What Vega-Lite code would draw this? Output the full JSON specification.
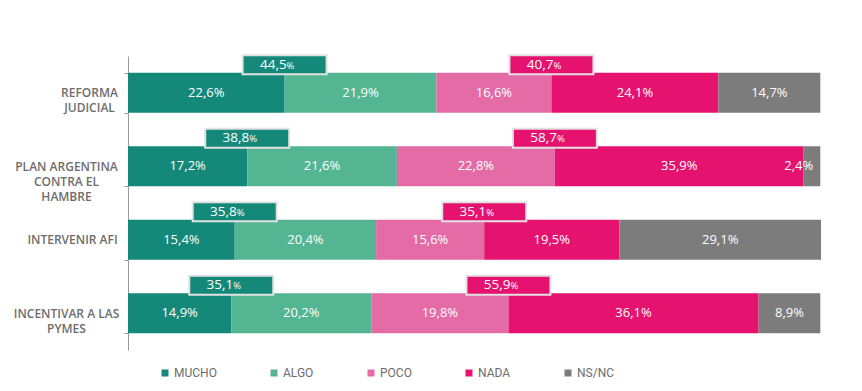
{
  "$schema": "https://vega.github.io/schema/vega-lite/v6.json",
  "width": 693,
  "height": 294,
  "autosize": {"type": "none"},
  "padding": {"left": 128, "top": 56, "right": 41, "bottom": 41},
  "background": "white",
  "config": {"view": {"stroke": null}},
  "data": {
    "values": [
      {"tema": "REFORMA|JUDICIAL", "resp": "MUCHO", "valor": 22.6},
      {"tema": "REFORMA|JUDICIAL", "resp": "ALGO", "valor": 21.9},
      {"tema": "REFORMA|JUDICIAL", "resp": "POCO", "valor": 16.6},
      {"tema": "REFORMA|JUDICIAL", "resp": "NADA", "valor": 24.1},
      {"tema": "REFORMA|JUDICIAL", "resp": "NS/NC", "valor": 14.7},
      {"tema": "PLAN ARGENTINA|CONTRA EL|HAMBRE", "resp": "MUCHO", "valor": 17.2},
      {"tema": "PLAN ARGENTINA|CONTRA EL|HAMBRE", "resp": "ALGO", "valor": 21.6},
      {"tema": "PLAN ARGENTINA|CONTRA EL|HAMBRE", "resp": "POCO", "valor": 22.8},
      {"tema": "PLAN ARGENTINA|CONTRA EL|HAMBRE", "resp": "NADA", "valor": 35.9},
      {"tema": "PLAN ARGENTINA|CONTRA EL|HAMBRE", "resp": "NS/NC", "valor": 2.4},
      {"tema": "INTERVENIR AFI", "resp": "MUCHO", "valor": 15.4},
      {"tema": "INTERVENIR AFI", "resp": "ALGO", "valor": 20.4},
      {"tema": "INTERVENIR AFI", "resp": "POCO", "valor": 15.6},
      {"tema": "INTERVENIR AFI", "resp": "NADA", "valor": 19.5},
      {"tema": "INTERVENIR AFI", "resp": "NS/NC", "valor": 29.1},
      {"tema": "INCENTIVAR A LAS|PYMES", "resp": "MUCHO", "valor": 14.9},
      {"tema": "INCENTIVAR A LAS|PYMES", "resp": "ALGO", "valor": 20.2},
      {"tema": "INCENTIVAR A LAS|PYMES", "resp": "POCO", "valor": 19.8},
      {"tema": "INCENTIVAR A LAS|PYMES", "resp": "NADA", "valor": 36.1},
      {"tema": "INCENTIVAR A LAS|PYMES", "resp": "NS/NC", "valor": 8.9}
    ]
  },
  "transform": [
    {"calculate": "indexof(['MUCHO','ALGO','POCO','NADA','NS/NC'], datum.resp)", "as": "orden"},
    {"calculate": "datum.orden < 2 ? 'pos' : (datum.orden < 4 ? 'neg' : 'ns')", "as": "grupo"},
    {"stack": "valor", "groupby": ["tema"], "sort": [{"field": "orden", "order": "ascending"}], "as": ["x0", "x1"]},
    {"joinaggregate": [{"op": "sum", "field": "valor", "as": "total"}], "groupby": ["tema", "grupo"]},
    {"calculate": "(datum.x0 + datum.x1) / 2", "as": "xm"},
    {"calculate": "replace(format(datum.valor, '.1f'), '.', ',') + '%'", "as": "etiqueta"},
    {"calculate": "replace(format(datum.total, '.1f'), '.', ',')", "as": "totaltxt"},
    {"calculate": "datum.resp === 'MUCHO' ? datum.x1 : datum.x0", "as": "ancla"}
  ],
  "encoding": {
    "y": {
      "field": "tema",
      "type": "nominal",
      "sort": null,
      "scale": {"paddingInner": 0.456, "paddingOuter": 0.228},
      "axis": {
        "title": null,
        "labelExpr": "split(datum.label, '|')",
        "labelFont": "Open Sans",
        "labelFontWeight": 600,
        "labelFontSize": 12,
        "labelColor": "#6d6d6d",
        "labelLineHeight": 15,
        "labelAlign": "center",
        "labelPadding": {
          "condition": [
            {"test": "datum.value === 'REFORMA|JUDICIAL'", "value": 35},
            {"test": "datum.value === 'INTERVENIR AFI'", "value": 52}
          ],
          "value": 58
        },
        "labelLimit": 200,
        "tickSize": 4,
        "tickColor": "#9a9a9a",
        "domainColor": "#9a9a9a",
        "tickBand": "extent"
      }
    }
  },
  "layer": [
    {
      "mark": {"type": "bar"},
      "encoding": {
        "x": {"field": "x0", "type": "quantitative", "scale": {"domain": [0, 100]}, "axis": null},
        "x2": {"field": "x1"},
        "color": {
          "field": "resp",
          "type": "nominal",
          "scale": {
            "domain": ["MUCHO", "ALGO", "POCO", "NADA", "NS/NC"],
            "range": ["#14897a", "#54b592", "#e46ba6", "#e5136f", "#7c7c7c"]
          },
          "legend": {
            "title": null,
            "orient": "none",
            "legendX": 31,
            "legendY": 311,
            "direction": "horizontal",
            "symbolType": "square",
            "symbolSize": 49,
            "symbolStrokeWidth": 0,
            "labelFont": "Roboto",
            "labelFontSize": 12,
            "labelColor": "#6d6d6d",
            "labelOffset": 3,
            "columnPadding": 51,
            "padding": 0
          }
        }
      }
    },
    {
      "transform": [{"filter": "datum.valor >= 5"}],
      "mark": {"type": "text", "color": "white", "font": "Open Sans", "fontSize": 13},
      "encoding": {
        "x": {"field": "xm", "type": "quantitative"},
        "text": {"field": "etiqueta"}
      }
    },
    {
      "transform": [{"filter": "datum.valor < 5"}],
      "mark": {"type": "text", "color": "white", "font": "Open Sans", "fontSize": 13, "align": "right", "dx": -7},
      "encoding": {
        "x": {"field": "x1", "type": "quantitative"},
        "text": {"field": "etiqueta"}
      }
    },
    {
      "transform": [{"filter": "datum.resp === 'MUCHO' || datum.resp === 'NADA'"}],
      "mark": {
        "type": "point",
        "shape": "M-1,-0.226L1,-0.226L1,0.226L-1,0.226Z",
        "size": 7056,
        "filled": true,
        "opacity": 1,
        "stroke": "#e2e2e2",
        "strokeWidth": 2,
        "yOffset": -28
      },
      "encoding": {
        "x": {"field": "ancla", "type": "quantitative"},
        "color": {"field": "resp", "type": "nominal", "legend": null}
      }
    },
    {
      "transform": [{"filter": "datum.resp === 'MUCHO' || datum.resp === 'NADA'"}],
      "mark": {"type": "text", "color": "white", "font": "Open Sans", "fontSize": 13.5, "align": "right", "dx": 2, "yOffset": -28},
      "encoding": {
        "x": {"field": "ancla", "type": "quantitative"},
        "text": {"field": "totaltxt"}
      }
    },
    {
      "transform": [{"filter": "datum.resp === 'MUCHO' || datum.resp === 'NADA'"}],
      "mark": {"type": "text", "color": "white", "font": "Open Sans", "fontSize": 9.5, "align": "left", "dx": 2, "yOffset": -27},
      "encoding": {
        "x": {"field": "ancla", "type": "quantitative"},
        "text": {"value": "%"}
      }
    }
  ]
}
